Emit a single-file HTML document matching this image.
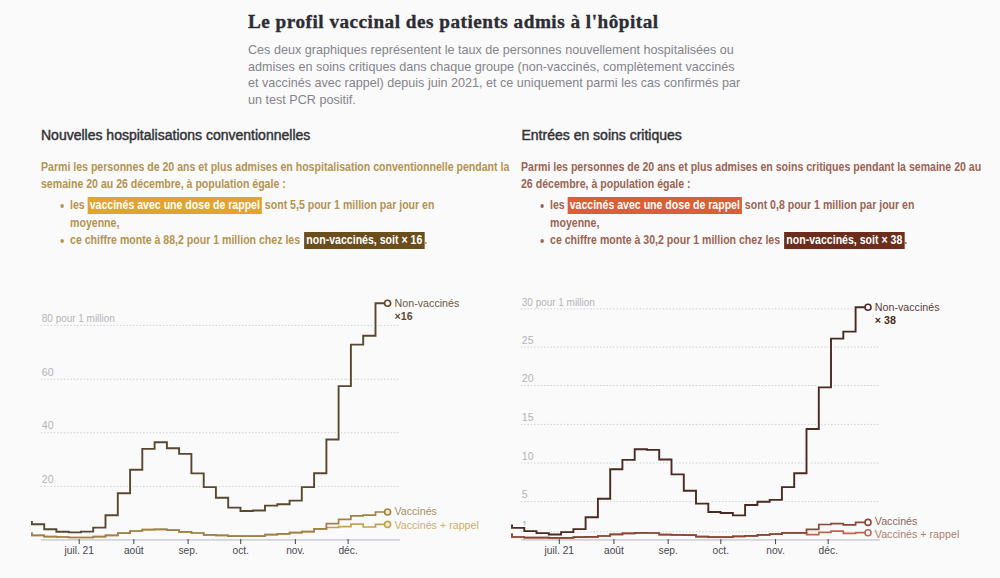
<!DOCTYPE html>
<html><head><meta charset="utf-8"><style>
html,body{margin:0;padding:0}
body{width:1000px;height:578px;background:#fafafb;position:relative;overflow:hidden;font-family:"Liberation Sans",sans-serif}
.t{position:absolute;white-space:nowrap}
#title{left:248px;top:9.2px;font:bold 19.2px/26px "Liberation Serif",serif;color:#2d2d33;letter-spacing:0.5px;-webkit-text-stroke:0.35px #2b2b31}
#sub{left:248px;top:42.1px;font:12.6px/16.5px "Liberation Sans",sans-serif;color:#84848a}
.h{font:14px/20px "Liberation Sans",sans-serif;color:#333336;-webkit-text-stroke:0.45px #333336}
.p{font:bold 12px/17.5px "Liberation Sans",sans-serif;transform:scaleX(0.88);transform-origin:0 0}
.p ul{margin:3.5px 0 0 0;padding:0 0 0 33px;list-style:none}
.p li{position:relative}
.p li:before{content:"";position:absolute;left:-11px;top:7px;width:4px;height:4px;border-radius:50%;background:currentColor}
.hl{padding:1.2px 2.3px 1.3px;color:#fff}
</style></head><body>
<div id="title" class="t">Le profil vaccinal des patients admis à l'hôpital</div>
<div id="sub" class="t">Ces deux graphiques représentent le taux de personnes nouvellement hospitalisées ou<br>admises en soins critiques dans chaque groupe (non-vaccinés, complètement vaccinés<br>et vaccinés avec rappel) depuis juin 2021, et ce uniquement parmi les cas confirmés par<br>un test PCR positif.</div>
<div class="t h" style="left:41px;top:125px">Nouvelles hospitalisations conventionnelles</div>
<div class="t h" style="left:521.5px;top:125px">Entrées en soins critiques</div>
<div class="t p" style="left:40.6px;top:158.8px;color:#b39450">Parmi les personnes de 20 ans et plus admises en hospitalisation conventionnelle pendant la<br>semaine 20 au 26 décembre, à population égale :
<ul><li>les <span class="hl" style="background:#e4a22f">vaccinés avec une dose de rappel</span> sont 5,5 pour 1 million par jour en<br>moyenne,</li>
<li>ce chiffre monte à 88,2 pour 1 million chez les <span class="hl" style="background:#6a4e1e;margin-left:1.5px">non-vaccinés, soit × 16</span>.</li></ul></div>
<div class="t p" style="left:521px;top:158.8px;color:#9c6453">Parmi les personnes de 20 ans et plus admises en soins critiques pendant la semaine 20 au<br>26 décembre, à population égale :
<ul><li>les <span class="hl" style="background:#dc5e34">vaccinés avec une dose de rappel</span> sont 0,8 pour 1 million par jour en<br>moyenne,</li>
<li>ce chiffre monte à 30,2 pour 1 million chez les <span class="hl" style="background:#6b2d1c;margin-left:1.5px">non-vaccinés, soit × 38</span>.</li></ul></div>
<svg width="1000" height="578" viewBox="0 0 1000 578" style="position:absolute;left:0;top:0">
<style>
.g{stroke:#cfcfd3;stroke-width:1;stroke-dasharray:1.5 1.8}
.ax{stroke:#d3d3d9;stroke-width:1.6}
.tk{stroke:#505055;stroke-width:1.1}
.yl{font:10.6px "Liberation Sans",sans-serif;fill:#b4b4b8}
.xl{font:10.2px "Liberation Sans",sans-serif;fill:#48484e;text-anchor:middle}
.ln{fill:none;stroke-linejoin:miter;stroke-linecap:butt}
.lab{font:10.7px "Liberation Sans",sans-serif}
</style>
<line x1="40.7" x2="400" y1="325.4" y2="325.4" class="g"/><line x1="40.7" x2="400" y1="379.2" y2="379.2" class="g"/><line x1="40.7" x2="400" y1="432.8" y2="432.8" class="g"/><line x1="40.7" x2="400" y1="486.4" y2="486.4" class="g"/>
<text x="41.8" y="322.1" class="yl" textLength="73" lengthAdjust="spacingAndGlyphs">80 pour 1 million</text><text x="41.8" y="375.7" class="yl">60</text><text x="41.8" y="429.3" class="yl">40</text><text x="41.8" y="482.9" class="yl">20</text>
<line x1="520.8" x2="880" y1="308.9" y2="308.9" class="g"/><line x1="520.8" x2="880" y1="347.1" y2="347.1" class="g"/><line x1="520.8" x2="880" y1="385.5" y2="385.5" class="g"/><line x1="520.8" x2="880" y1="424.4" y2="424.4" class="g"/><line x1="520.8" x2="880" y1="463.0" y2="463.0" class="g"/><line x1="520.8" x2="880" y1="501.6" y2="501.6" class="g"/><line x1="520.8" x2="880" y1="531.8" y2="531.8" class="g"/>
<text x="521.8" y="305.7" class="yl" textLength="73" lengthAdjust="spacingAndGlyphs">30 pour 1 million</text><text x="521.8" y="343.7" class="yl">25</text><text x="521.8" y="382.1" class="yl">20</text><text x="521.8" y="420.9" class="yl">15</text><text x="521.8" y="459.5" class="yl">10</text><text x="521.8" y="497.9" class="yl">5</text><text x="521.8" y="529.1" class="yl">1</text>
<g class="ln" stroke="#fafafb">
<path d="M31.9,532.4V535.3H44.2V536.7H56.4V537.0H68.7V537.5H81.0V537.5H93.2V536.7H105.5V535.4H117.8V533.2H130.1V531.0H142.3V529.6H154.6V529.4H166.9V530.2H179.1V531.8H191.4V533.0H203.7V534.8H215.9V535.4H228.2V536.2H240.5V536.2H252.8V536.2H265.0V534.6H277.3V533.8H289.6V532.6H301.8V531.7H314.1V528.9H326.4V527.5H338.6V526.6H350.9V524.1H363.2V527.0H375.5V524.4H387.7" stroke-width="3.5"/><path d="M31.9,532.4V535.3H44.2V536.7H56.4V537.0H68.7V537.5H81.0V537.5H93.2V536.7H105.5V535.4H117.8V533.2H130.1V531.0H142.3V529.6H154.6V529.4H166.9V530.2H179.1V531.8H191.4V533.0H203.7V534.8H215.9V535.4H228.2V536.2H240.5V536.2H252.8V536.2H265.0V534.6H277.3V533.8H289.6V532.6H301.8V531.7H314.1V528.9H326.4V523.6H338.6V519.4H350.9V515.9H363.2V515.2H375.5V512.0H387.7" stroke-width="3.5"/><path d="M31.9,521.0V524.2H44.2V529.2H56.4V531.8H68.7V532.4H81.0V531.6H93.2V527.6H105.5V515.2H117.8V493.3H130.1V469.8H142.3V448.9H154.6V442.3H166.9V448.3H179.1V453.9H191.4V473.4H203.7V487.1H215.9V497.7H228.2V507.6H240.5V511.0H252.8V510.5H265.0V505.6H277.3V504.2H289.6V500.6H301.8V487.1H314.1V473.3H326.4V439.5H338.6V386.1H350.9V344.6H363.2V335.7H375.5V303.3H387.7" stroke-width="5"/>
<path d="M512.0,533.4V537.0H524.3V537.6H536.5V537.7H548.8V537.8H561.1V537.8H573.4V537.2H585.6V536.8H597.9V536.0H610.2V534.4H622.4V533.4H634.7V532.8H647.0V533.0H659.2V534.6H671.5V534.8H683.8V535.2H696.0V536.6H708.3V537.2H720.6V537.2H732.9V536.3H745.1V535.8H757.4V534.8H769.7V534.2H781.9V532.9H794.2V532.9H806.5V534.7H818.8V532.3H831.0V531.1H843.3V533.4H855.6V532.7H867.8" stroke-width="3.5"/><path d="M512.0,533.4V537.0H524.3V537.6H536.5V537.7H548.8V537.8H561.1V537.8H573.4V537.2H585.6V536.8H597.9V536.0H610.2V534.4H622.4V533.4H634.7V532.8H647.0V533.0H659.2V534.6H671.5V534.8H683.8V535.2H696.0V536.6H708.3V537.2H720.6V537.2H732.9V536.3H745.1V535.8H757.4V534.8H769.7V534.2H781.9V532.9H794.2V532.9H806.5V529.4H818.8V524.5H831.0V523.7H843.3V524.8H855.6V522.4H867.8" stroke-width="3.5"/><path d="M512.0,524.5V527.9H524.3V531.1H536.5V533.1H548.8V534.5H561.1V532.1H573.4V529.1H585.6V517.2H597.9V498.7H610.2V469.2H622.4V459.9H634.7V449.3H647.0V449.9H659.2V459.5H671.5V474.4H683.8V490.7H696.0V503.6H708.3V512.0H720.6V513.0H732.9V515.4H745.1V505.0H757.4V501.7H769.7V499.9H781.9V487.1H794.2V473.3H806.5V429.0H818.8V387.4H831.0V338.6H843.3V331.6H855.6V307.3H867.8" stroke-width="5"/>
</g>
<line x1="40.9" x2="400" y1="539.9" y2="539.9" class="ax"/><line x1="79.2" x2="79.2" y1="539.0" y2="544.1" class="tk"/><text x="79.2" y="553.7" class="xl">juil. 21</text><line x1="133.8" x2="133.8" y1="539.0" y2="544.1" class="tk"/><text x="133.8" y="553.7" class="xl">août</text><line x1="188.1" x2="188.1" y1="539.0" y2="544.1" class="tk"/><text x="188.1" y="553.7" class="xl">sep.</text><line x1="240.7" x2="240.7" y1="539.0" y2="544.1" class="tk"/><text x="240.7" y="553.7" class="xl">oct.</text><line x1="295.4" x2="295.4" y1="539.0" y2="544.1" class="tk"/><text x="295.4" y="553.7" class="xl">nov.</text><line x1="348.1" x2="348.1" y1="539.0" y2="544.1" class="tk"/><text x="348.1" y="553.7" class="xl">déc.</text>
<line x1="521.0" x2="880" y1="539.9" y2="539.9" class="ax"/><line x1="559.3000000000001" x2="559.3000000000001" y1="539.0" y2="544.1" class="tk"/><text x="559.3000000000001" y="553.7" class="xl">juil. 21</text><line x1="613.9000000000001" x2="613.9000000000001" y1="539.0" y2="544.1" class="tk"/><text x="613.9000000000001" y="553.7" class="xl">août</text><line x1="668.2" x2="668.2" y1="539.0" y2="544.1" class="tk"/><text x="668.2" y="553.7" class="xl">sep.</text><line x1="720.8" x2="720.8" y1="539.0" y2="544.1" class="tk"/><text x="720.8" y="553.7" class="xl">oct.</text><line x1="775.5" x2="775.5" y1="539.0" y2="544.1" class="tk"/><text x="775.5" y="553.7" class="xl">nov.</text><line x1="828.2" x2="828.2" y1="539.0" y2="544.1" class="tk"/><text x="828.2" y="553.7" class="xl">déc.</text>
<path d="M31.9,532.4V535.3H44.2V536.7H56.4V537.0H68.7V537.5H81.0V537.5H93.2V536.7H105.5V535.4H117.8V533.2H130.1V531.0H142.3V529.6H154.6V529.4H166.9V530.2H179.1V531.8H191.4V533.0H203.7V534.8H215.9V535.4H228.2V536.2H240.5V536.2H252.8V536.2H265.0V534.6H277.3V533.8H289.6V532.6H301.8V531.7H314.1V528.9H326.4V527.5H338.6V526.6H350.9V524.1H363.2V527.0H375.5V524.4H387.7" class="ln" stroke="#c2a250" stroke-width="1.7"/>
<path d="M31.9,532.4V535.3H44.2V536.7H56.4V537.0H68.7V537.5H81.0V537.5H93.2V536.7H105.5V535.4H117.8V533.2H130.1V531.0H142.3V529.6H154.6V529.4H166.9V530.2H179.1V531.8H191.4V533.0H203.7V534.8H215.9V535.4H228.2V536.2H240.5V536.2H252.8V536.2H265.0V534.6H277.3V533.8H289.6V532.6H301.8V531.7H314.1V528.9H326.4V523.6H338.6V519.4H350.9V515.9H363.2V515.2H375.5V512.0H387.7" class="ln" stroke="#9e824a" stroke-width="1.7"/>
<path d="M31.9,521.0V524.2H44.2V529.2H56.4V531.8H68.7V532.4H81.0V531.6H93.2V527.6H105.5V515.2H117.8V493.3H130.1V469.8H142.3V448.9H154.6V442.3H166.9V448.3H179.1V453.9H191.4V473.4H203.7V487.1H215.9V497.7H228.2V507.6H240.5V511.0H252.8V510.5H265.0V505.6H277.3V504.2H289.6V500.6H301.8V487.1H314.1V473.3H326.4V439.5H338.6V386.1H350.9V344.6H363.2V335.7H375.5V303.3H387.7" class="ln" stroke="#574830" stroke-width="1.9"/>
<path d="M512.0,533.4V537.0H524.3V537.6H536.5V537.7H548.8V537.8H561.1V537.8H573.4V537.2H585.6V536.8H597.9V536.0H610.2V534.4H622.4V533.4H634.7V532.8H647.0V533.0H659.2V534.6H671.5V534.8H683.8V535.2H696.0V536.6H708.3V537.2H720.6V537.2H732.9V536.3H745.1V535.8H757.4V534.8H769.7V534.2H781.9V532.9H794.2V532.9H806.5V534.7H818.8V532.3H831.0V531.1H843.3V533.4H855.6V532.7H867.8" class="ln" stroke="#b8664f" stroke-width="1.7"/>
<path d="M512.0,533.4V537.0H524.3V537.6H536.5V537.7H548.8V537.8H561.1V537.8H573.4V537.2H585.6V536.8H597.9V536.0H610.2V534.4H622.4V533.4H634.7V532.8H647.0V533.0H659.2V534.6H671.5V534.8H683.8V535.2H696.0V536.6H708.3V537.2H720.6V537.2H732.9V536.3H745.1V535.8H757.4V534.8H769.7V534.2H781.9V532.9H794.2V532.9H806.5V529.4H818.8V524.5H831.0V523.7H843.3V524.8H855.6V522.4H867.8" class="ln" stroke="#8a4636" stroke-width="1.7"/>
<path d="M512.0,524.5V527.9H524.3V531.1H536.5V533.1H548.8V534.5H561.1V532.1H573.4V529.1H585.6V517.2H597.9V498.7H610.2V469.2H622.4V459.9H634.7V449.3H647.0V449.9H659.2V459.5H671.5V474.4H683.8V490.7H696.0V503.6H708.3V512.0H720.6V513.0H732.9V515.4H745.1V505.0H757.4V501.7H769.7V499.9H781.9V487.1H794.2V473.3H806.5V429.0H818.8V387.4H831.0V338.6H843.3V331.6H855.6V307.3H867.8" class="ln" stroke="#4a2a22" stroke-width="1.9"/>
<circle cx="387.6" cy="303.3" r="3" fill="#fff" stroke="#574830" stroke-width="1.6"/>
<circle cx="387.6" cy="512.0" r="3" fill="#f7e9c4" stroke="#9e824a" stroke-width="1.6"/>
<circle cx="387.6" cy="524.4" r="3" fill="#fbeec8" stroke="#c2a250" stroke-width="1.6"/>
<text x="394.6" y="306.8" class="lab" fill="#665a44">Non-vaccinés</text>
<text x="394.6" y="319.6" class="lab" style="font-weight:bold" fill="#5d4d31">×16</text>
<text x="394.4" y="514.6" class="lab" fill="#a39268">Vaccinés</text>
<text x="394.4" y="529.4" class="lab" fill="#ccb068">Vaccinés + rappel</text>
<circle cx="868.0" cy="307.3" r="3" fill="#fff" stroke="#4a2a22" stroke-width="1.6"/>
<circle cx="868.0" cy="522.4" r="3" fill="#fff" stroke="#8a4636" stroke-width="1.6"/>
<circle cx="868.0" cy="532.7" r="3" fill="#fff" stroke="#b8664f" stroke-width="1.6"/>
<text x="874.8" y="310.8" class="lab" fill="#5c4038">Non-vaccinés</text>
<text x="874.8" y="323.8" class="lab" style="font-weight:bold" fill="#4a2a22">× 38</text>
<text x="874.8" y="525.4" class="lab" fill="#8a665c">Vaccinés</text>
<text x="874.8" y="537.6" class="lab" fill="#ad8070">Vaccinés + rappel</text>
</svg>
</body></html>
